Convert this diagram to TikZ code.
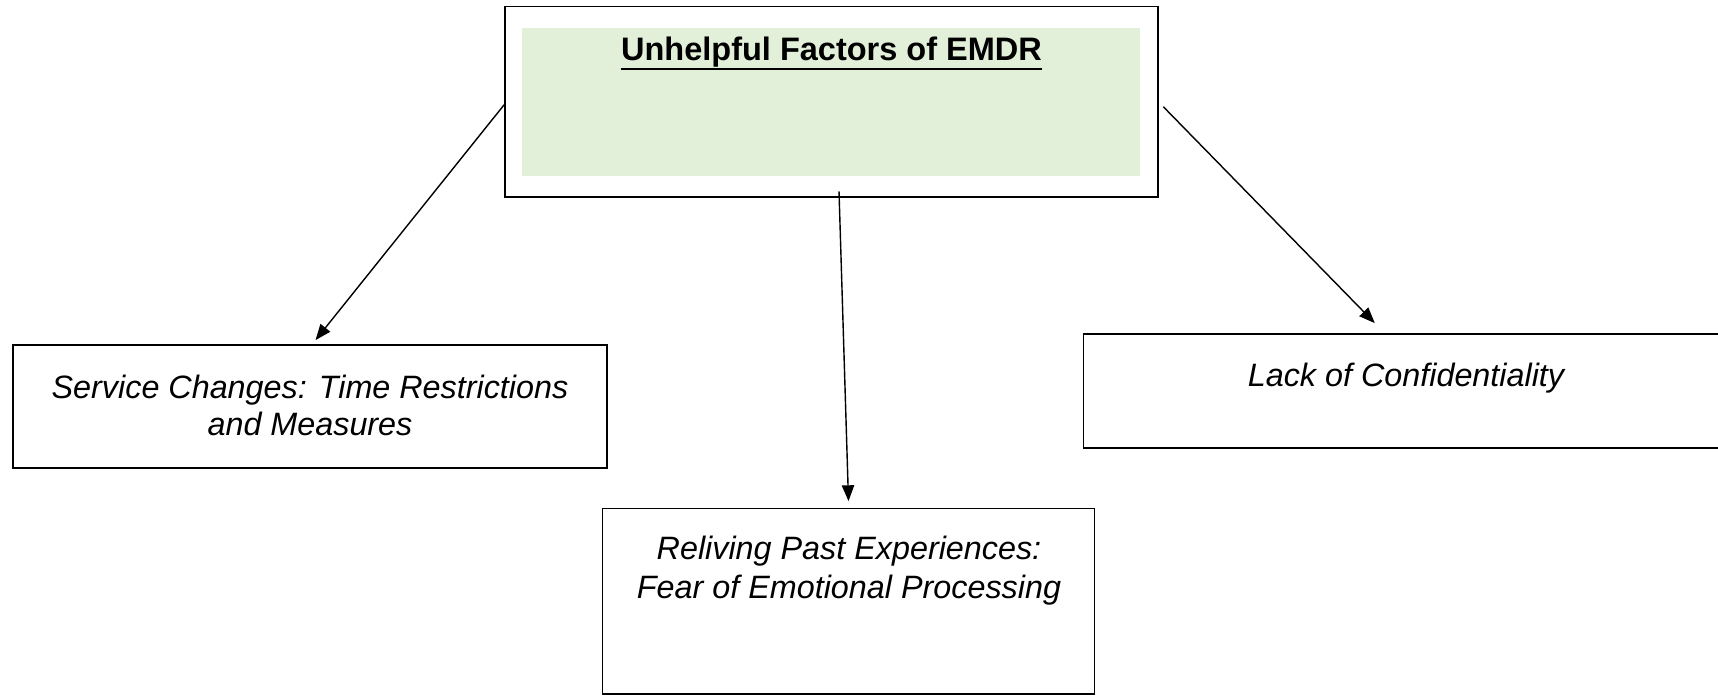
\documentclass[tikz,border=0pt]{standalone}
\usepackage{fontspec}
\setmainfont{Liberation Sans}
\usetikzlibrary{arrows.meta}
\definecolor{lightgreen}{HTML}{E2EFD9}
\newcommand{\thickul}[1]{\setbox0\hbox{#1}\rlap{\rule[-5.6pt]{\wd0}{1.2pt}}\box0}
\tikzset{
	box/.style={draw, line width=1pt, inner sep=0pt},
	txt/.style={font=\fontsize{18.4}{20.8}\selectfont\itshape, align=center, inner sep=0pt},
	link/.style={->, line width=0.8pt},
	>={Triangle[length=9pt,width=7pt]}
}
\begin{document}
\begin{tikzpicture}
	\useasboundingbox (0,0) rectangle (34.36,13.9);
	% top box
	\node [box, minimum width=13.06cm, minimum height=3.81cm] (top) at (16.63,11.864) {};
	\node [fill=lightgreen, minimum width=12.36cm, minimum height=2.96cm, inner sep=0pt] (topfill) at (16.61,11.851) {};
	\node [anchor=base, inner sep=0pt, font=\fontsize{18.5}{21}\selectfont\bfseries] (title) at (16.63,12.7) {\thickul{Unhelpful Factors of EMDR}};
	% factor boxes
	\node [box, minimum width=11.88cm, minimum height=2.46cm] (service) at (6.2,5.77) {};
	\node [txt, anchor=north] (servicetxt) at (6.2,6.4) {Service Changes: Time Restrictions\\and Measures};
	\node [box, minimum width=9.84cm, minimum height=3.71cm] (reliving) at (16.97,1.875) {};
	\node [txt, anchor=north, font=\fontsize{18.4}{22}\selectfont\itshape] (relivingtxt) at (16.98,3.18) {Reliving Past Experiences:\\Fear of Emotional Processing};
	\node [box, minimum width=12.93cm, minimum height=2.28cm] (confid) at (28.136,6.08) {};
	\node [txt, anchor=base] (confidtxt) at (28.12,6.18) {Lack of Confidentiality};
	% arrows
	\draw [link] ([yshift=-0.06cm]top.west) -- ([xshift=0.11cm,yshift=0.08cm]service.north);
	\draw [link] ([xshift=0.15cm,yshift=0.13cm]top.south) -- ([yshift=0.13cm]reliving.north);
	\draw [link] ([xshift=0.09cm,yshift=-0.1cm]top.east) -- ([xshift=-0.64cm,yshift=0.2cm]confid.north);
\end{tikzpicture}
\end{document}
